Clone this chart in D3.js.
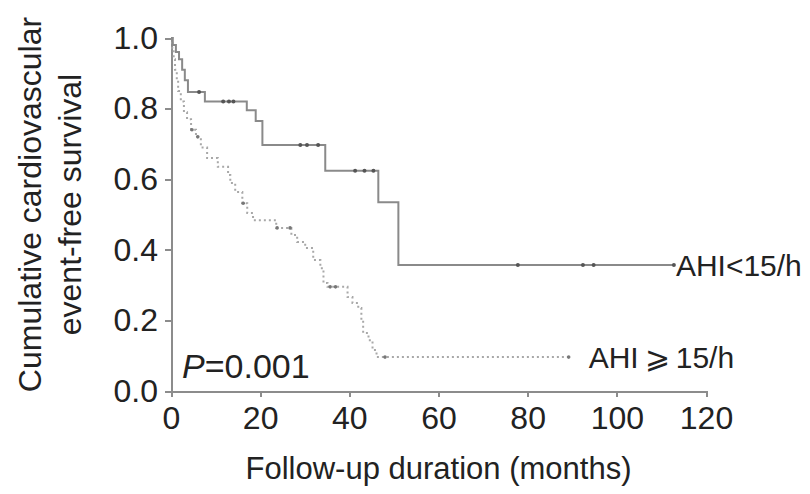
<!DOCTYPE html>
<html lang="en">
<head>
    <meta charset="UTF-8">
    <title>Cardiovascular event-free survival</title>
    <style>
        body { margin: 0; background: #fff; }
        .axis path, .axis line {
            fill: none;
            stroke: #8c8c8c;
            stroke-width: 2;
            shape-rendering: crispEdges;
        }
        .axis text {
            font-family: "Liberation Sans", Arial, sans-serif;
            font-size: 32px;
            fill: #222;
        }
        .lbl {
            font-family: "Liberation Sans", Arial, sans-serif;
            fill: #222;
        }
    </style>
</head>
<body>
<div id="sv"></div>
<script src="https://cdn.jsdelivr.net/npm/d3@7"></script>
<script>
    // AHI<15/h group (solid)
    var lowAhiTimes = [0, 0.4, 1.1, 1.8, 2.5, 3.1, 3.8, 7.6, 17.0, 19.0, 20.5, 34.6, 46.5, 51.0];
    var lowAhiSurv  = [1.0, 0.98, 0.96, 0.94, 0.91, 0.88, 0.847, 0.82, 0.795, 0.765, 0.697, 0.624, 0.535, 0.357];
    var lowAhiEnd = 112.8;
    var lowAhiCensor = [6.3, 11.7, 13.0, 14.0, 29.0, 30.5, 33.0, 41.3, 43.4, 45.4, 77.8, 92.4, 94.8, 112.8];

    // AHI>=15/h group (dotted)
    var highAhiTimes = [0, 0.3, 0.6, 0.9, 1.3, 1.6, 2.2, 2.9, 3.6, 4.5, 5.6, 6.7, 8.1, 10.5, 12.8, 13.3, 14.4,
        16.0, 17.1, 18.4, 23.6, 27.0, 28.3, 30.1, 31.9, 33.5, 34.2, 35.1, 39.6, 40.7, 42.0, 42.7, 43.1, 44.3, 45.2, 46.1];
    var highAhiSurv  = [1.0, 0.97, 0.94, 0.91, 0.88, 0.85, 0.82, 0.79, 0.77, 0.74, 0.72, 0.69, 0.66, 0.635, 0.612, 0.589, 0.564,
        0.532, 0.504, 0.484, 0.462, 0.442, 0.422, 0.405, 0.371, 0.348, 0.306, 0.295, 0.266, 0.249, 0.235, 0.201, 0.164, 0.144, 0.116, 0.096];
    var highAhiEnd = 89.2;
    var highAhiCensor = [4.7, 6.0, 16.2, 23.8, 26.7, 35.7, 36.9, 48.0, 89.2];

    var xTicks = [0, 20, 40, 60, 80, 100, 120];
    var yTicks = [0, 0.2, 0.4, 0.6, 0.8, 1.0];

    var outerWidth = 810,
        outerHeight = 494,
        margin = {top: 38, right: 104, bottom: 103, left: 171},
        width = outerWidth - margin.left - margin.right,
        height = outerHeight - margin.top - margin.bottom;

    var x = d3.scaleLinear().domain([0, 120]).range([0, width]);
    var y = d3.scaleLinear().domain([0, 1]).range([height, 0]);

    var svg = d3.select("#sv").append("svg")
        .attr("width", outerWidth)
        .attr("height", outerHeight)
        .append("g")
        .attr("transform", `translate(${margin.left},${margin.top})`);

    // step points incl. end of follow-up
    function steps(times, surv, end) {
        var pts = times.map((t, i) => [t, surv[i]]);
        pts.push([end, surv[surv.length - 1]]);
        return pts;
    }
    function survAt(times, surv, t) {
        var v = surv[0];
        times.forEach((tt, i) => { if (tt <= t) v = surv[i]; });
        return v;
    }

    var line = d3.line()
        .x(d => x(d[0]))
        .y(d => y(d[1]))
        .curve(d3.curveStepAfter);

    // axes
    svg.append("g")
        .attr("class", "axis")
        .attr("transform", `translate(0,${height})`)
        .call(d3.axisBottom(x).tickValues(xTicks).tickSize(6).tickSizeOuter(0).tickPadding(9));

    svg.append("g")
        .attr("class", "axis")
        .call(d3.axisLeft(y).tickValues(yTicks).tickFormat(d3.format(".1f")).tickSize(6).tickSizeOuter(0).tickPadding(7));

    // curves
    svg.append("path")
        .datum(steps(highAhiTimes, highAhiSurv, highAhiEnd))
        .attr("d", line)
        .attr("fill", "none")
        .attr("stroke", "#a8a8a8")
        .attr("stroke-width", 2)
        .attr("stroke-dasharray", "2,3");

    svg.append("path")
        .datum(steps(lowAhiTimes, lowAhiSurv, lowAhiEnd))
        .attr("d", line)
        .attr("fill", "none")
        .attr("stroke", "#8a8a8a")
        .attr("stroke-width", 2);

    // censor marks
    svg.selectAll(".cLow").data(lowAhiCensor).enter().append("circle")
        .attr("class", "cLow")
        .attr("cx", d => x(d))
        .attr("cy", d => y(survAt(lowAhiTimes, lowAhiSurv, d)))
        .attr("r", 2)
        .attr("fill", "#555");

    svg.selectAll(".cHigh").data(highAhiCensor).enter().append("circle")
        .attr("class", "cHigh")
        .attr("cx", d => x(d))
        .attr("cy", d => y(survAt(highAhiTimes, highAhiSurv, d)))
        .attr("r", 1.8)
        .attr("fill", "#777");

    // labels
    svg.append("text").attr("class", "lbl")
        .attr("x", x(lowAhiEnd) + 2)
        .attr("y", y(0.357) + 11)
        .style("font-size", "30px")
        .text("AHI<15/h");

    svg.append("text").attr("class", "lbl")
        .attr("x", x(highAhiEnd) + 20)
        .attr("y", y(0.096) + 11)
        .style("font-size", "30px")
        .text("AHI\u2009\u2A7E\u200915/h");

    var p = svg.append("text").attr("class", "lbl")
        .attr("x", 11)
        .attr("y", height - 13)
        .style("font-size", "34px");
    p.append("tspan").style("font-style", "italic").text("P");
    p.append("tspan").text("=0.001");

    svg.append("text").attr("class", "lbl")
        .attr("x", width / 2)
        .attr("y", height + 88)
        .attr("text-anchor", "middle")
        .style("font-size", "31px")
        .text("Follow-up duration (months)");

    var yl = svg.append("text").attr("class", "lbl")
        .attr("transform", `translate(${-margin.left + 41},${height / 2 - 10}) rotate(-90)`)
        .attr("text-anchor", "middle")
        .style("font-size", "32px");
    yl.append("tspan").attr("x", 0).attr("dy", 0).text("Cumulative cardiovascular");
    yl.append("tspan").attr("x", 0).attr("dy", 40).text("event-free survival");
</script>
</body>
</html>
